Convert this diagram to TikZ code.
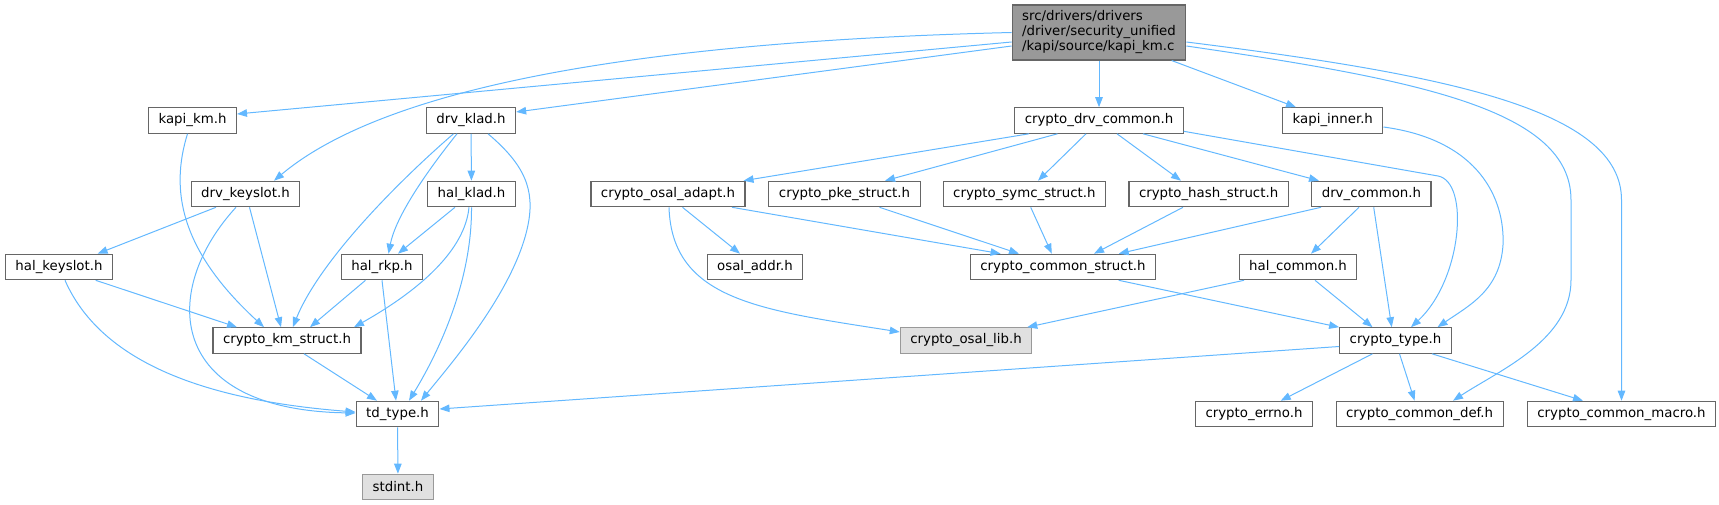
\documentclass[tikz,border=0pt]{standalone}
\usepackage{fontspec}
\setmainfont{DejaVu Sans}
\usetikzlibrary{arrows.meta}
\definecolor{edgeblue}{HTML}{63B8FF}
\definecolor{boxgray}{HTML}{666666}
\definecolor{litegray}{HTML}{999999}
\definecolor{fillgray}{HTML}{E0E0E0}
\begin{document}
\begin{tikzpicture}[x=1pt,y=-1pt,
  box/.style={draw=boxgray,line width=1.1pt,fill=white,minimum height=25.5pt,inner xsep=10pt,inner ysep=0pt,font=\fontsize{13.33}{15}\selectfont},
  ghost/.style={box,draw=litegray,fill=fillgray},
  edge/.style={draw=edgeblue,line width=1pt,-{Triangle[length=10pt,width=7.5pt]}}]
\useasboundingbox (0,0) rectangle (1719,505);
\node[box,fill=litegray,minimum width=172pt,minimum height=55pt,align=left] (main) at (1099,32.5) {src/drivers/drivers\\/driver/security\_unified\\/kapi/source/kapi\_km.c};
\node[box] (kapi) at (192.5,120.5) {kapi\_km.h};
\node[box] (dklad) at (471,120.5) {drv\_klad.h};
\node[box] (cdc) at (1099,120.5) {crypto\_drv\_common.h};
\node[box] (kinner) at (1332.8,120.5) {kapi\_inner.h};
\node[box] (dkeyslot) at (245.5,194) {drv\_keyslot.h};
\node[box] (hklad) at (471.5,194) {hal\_klad.h};
\node[box] (oadapt) at (668,194) {crypto\_osal\_adapt.h};
\node[box] (pke) at (844.5,194) {crypto\_pke\_struct.h};
\node[box] (symc) at (1024.4,194) {crypto\_symc\_struct.h};
\node[box] (hash) at (1208.6,194) {crypto\_hash\_struct.h};
\node[box] (dcommon) at (1371.4,194) {drv\_common.h};
\node[box] (hkeyslot) at (59,267) {hal\_keyslot.h};
\node[box] (hrkp) at (382,267) {hal\_rkp.h};
\node[box] (oaddr) at (755,267) {osal\_addr.h};
\node[box] (cstruct) at (1063,267) {crypto\_common\_struct.h};
\node[box] (hcommon) at (1298,267) {hal\_common.h};
\node[box] (kmstruct) at (287,340.5) {crypto\_km\_struct.h};
\node[ghost] (osallib) at (966,340.5) {crypto\_osal\_lib.h};
\node[box] (ctype) at (1395.5,340.5) {crypto\_type.h};
\node[box] (tdtype) at (397.5,414) {td\_type.h};
\node[box] (errno) at (1254,414) {crypto\_errno.h};
\node[box] (cdef) at (1419.6,414) {crypto\_common\_def.h};
\node[box] (cmacro) at (1621.5,414) {crypto\_common\_macro.h};
\node[ghost] (stdint) at (398,487) {stdint.h};
\draw[edge] (main.west) .. controls (700,40) and (400,75) .. ([xshift=28.5pt]dkeyslot.north);
\draw[edge] ([yshift=-9.5pt]main.west) -- ([yshift=6.5pt]kapi.east);
\draw[edge] ([yshift=-13.5pt]main.west) -- ([yshift=8.5pt]dklad.east);
\draw[edge] (main) -- (cdc);
\draw[edge] ([xshift=72.7pt]main.south) -- ([xshift=-36.8pt]kinner.north);
\draw[edge] ([yshift=-13.5pt]main.east) .. controls (1420,80) and (1571,110) .. (1571,200) -- (1571,280) .. controls (1571,340) and (1500,370) .. ([xshift=33.4pt]cdef.north);
\draw[edge] ([yshift=-9.5pt]main.east) .. controls (1450,75) and (1621.5,110) .. (1621.5,200) -- (cmacro.north);
\draw[edge] ([xshift=-70pt]cdc.south) -- ([xshift=-2pt]oadapt.north east);
\draw[edge] ([xshift=-41.5pt]cdc.south) -- ([xshift=40.5pt]pke.north);
\draw[edge] ([xshift=-13pt]cdc.south) -- ([xshift=13.6pt]symc.north);
\draw[edge] ([xshift=18pt]cdc.south) -- ([xshift=-27.6pt]hash.north);
\draw[edge] ([xshift=44pt]cdc.south) -- ([xshift=-52.4pt]dcommon.north);
\draw[edge] ([yshift=2.5pt]cdc.south east) -- (1438,176) .. controls (1470,182) and (1462,280) .. ([xshift=15.5pt]ctype.north);
\draw[edge] ([yshift=-6.5pt]kinner.east) .. controls (1480,140) and (1505,200) .. (1503,245) .. controls (1500,290) and (1470,305) .. ([xshift=42pt]ctype.north);
\draw[edge] (dklad) -- (hklad);
\draw[edge] ([xshift=-14pt]dklad.south) .. controls (420,180) and (395,220) .. ([xshift=6.5pt]hrkp.north);
\draw[edge] ([xshift=-17.5pt]dklad.south) .. controls (400,180) and (320,260) .. ([xshift=5.8pt]kmstruct.north);
\draw[edge] ([xshift=17pt]dklad.south) .. controls (525,165) and (535,190) .. (528,225) .. controls (515,290) and (450,365) .. ([xshift=23.5pt]tdtype.north);
\draw[edge] ([xshift=-29.5pt]dkeyslot.south) -- ([xshift=38.6pt]hkeyslot.north);
\draw[edge] ([xshift=4pt]dkeyslot.south) -- ([xshift=-6pt]kmstruct.north);
\draw[edge] ([xshift=-9.5pt]dkeyslot.south) .. controls (160,290) and (165,410) .. ([yshift=1pt]tdtype.west);
\draw[edge] ([xshift=-5pt]kapi.south) .. controls (170,190) and (180,250) .. ([xshift=-23pt]kmstruct.north);
\draw[edge] ([xshift=-16.5pt]hklad.south) -- ([xshift=16pt]hrkp.north);
\draw[edge] ([xshift=-2.5pt]hklad.south) .. controls (465,250) and (420,290) .. ([xshift=67pt]kmstruct.north);
\draw[edge] (hklad.south) .. controls (472,280) and (440,350) .. ([xshift=11.5pt]tdtype.north);
\draw[edge] ([xshift=-16.5pt]hrkp.south) -- ([xshift=23pt]kmstruct.north);
\draw[edge] (hrkp.south) -- ([xshift=-1.5pt]tdtype.north);
\draw[edge] ([xshift=36.7pt]hkeyslot.south) -- ([xshift=-50pt]kmstruct.north);
\draw[edge] ([xshift=6pt]hkeyslot.south) .. controls (100,360) and (200,400) .. ([yshift=2pt]tdtype.west);
\draw[edge] ([xshift=17pt]kmstruct.south) -- ([xshift=-20.5pt]tdtype.north);
\draw[edge] (tdtype) -- (stdint);
\draw[edge] ([yshift=-6pt]ctype.west) -- ([yshift=5pt]tdtype.east);
\draw[edge] ([xshift=-23pt]ctype.south) -- ([xshift=26.7pt]errno.north);
\draw[edge] ([xshift=4pt]ctype.south) -- ([xshift=-5pt]cdef.north);
\draw[edge] ([xshift=36.5pt]ctype.south) -- ([xshift=-38.5pt]cmacro.north);
\draw[edge] ([xshift=14.5pt]oadapt.south) -- ([xshift=-15pt]oaddr.north);
\draw[edge] ([xshift=64pt]oadapt.south) -- ([xshift=-62.4pt]cstruct.north);
\draw[edge] ([xshift=1pt]oadapt.south) .. controls (672,300) and (760,310) .. ([yshift=8.5pt]osallib.west);
\draw[edge] ([xshift=35pt]pke.south) -- ([xshift=-44pt]cstruct.north);
\draw[edge] ([xshift=6.3pt]symc.south) -- ([xshift=-11.2pt]cstruct.north);
\draw[edge] ([xshift=-25.6pt]hash.south) -- ([xshift=31pt]cstruct.north);
\draw[edge] ([xshift=-50.4pt]dcommon.south) -- ([xshift=55.7pt]cstruct.north);
\draw[edge] ([xshift=-12.4pt]dcommon.south) -- ([xshift=13pt]hcommon.north);
\draw[edge] ([xshift=2.3pt]dcommon.south) -- ([xshift=-3.8pt]ctype.north);
\draw[edge] ([xshift=55.7pt]cstruct.south) -- (ctype.north west);
\draw[edge] ([xshift=-54pt]hcommon.south) -- ([xshift=-5pt]osallib.north east);
\draw[edge] ([xshift=17pt]hcommon.south) -- ([xshift=-23pt]ctype.north);
\end{tikzpicture}
\end{document}
